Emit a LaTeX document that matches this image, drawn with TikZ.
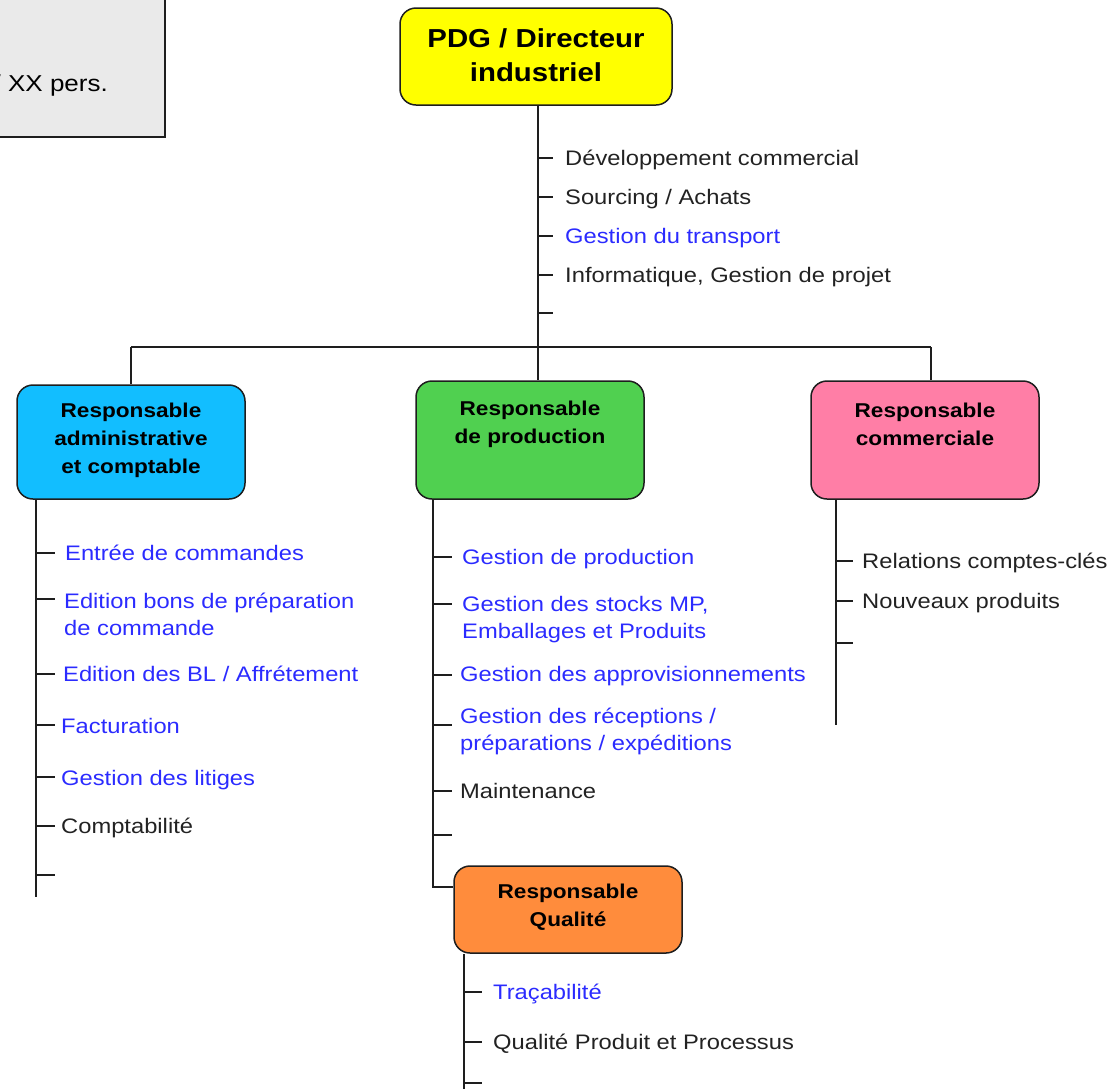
\documentclass[tikz,border=0pt]{standalone}
\usepackage{fontspec}
\setmainfont{Liberation Sans}[FakeStretch=1.13]
\definecolor{ln}{HTML}{1E1E1E}
\definecolor{itemblue}{HTML}{2B2BFF}
\definecolor{itemblack}{HTML}{222222}
\definecolor{yel}{HTML}{FFFF00}
\definecolor{cyanb}{HTML}{12BEFF}
\definecolor{grn}{HTML}{50D050}
\definecolor{pnk}{HTML}{FF7EA6}
\definecolor{org}{HTML}{FF8C3C}
\definecolor{grayb}{HTML}{EAEAEA}
\begin{document}
\begin{tikzpicture}[x=1pt,y=-1pt,
  rolebox/.style={draw=ln, line width=1.5pt, rounded corners=16pt, inner sep=0pt},
  roletext/.style={font=\bfseries\fontsize{20}{28}\selectfont, align=center, text=black, inner sep=0pt},
  toptext/.style={font=\bfseries\fontsize{26}{34}\selectfont, align=center, text=black, inner sep=0pt},
  itm/.style={font=\fontsize{21}{27}\selectfont, anchor=base west, inner sep=0pt, align=left},
  blu/.style={itm, text=itemblue},
  blk/.style={itm, text=itemblack},
  wire/.style={draw=ln, line width=1.7pt},
]
\useasboundingbox (0,0) rectangle (1115,1088);

% info box (cut off)
\node[draw=ln, fill=grayb, line width=1.5pt, minimum width=265pt, minimum height=157pt, inner sep=0pt] (info) at (32.5,58.5) {};
\node[blk, anchor=base east, text=black, font=\fontsize{23}{27}\selectfont] (infotext) at (108,91) {/ XX pers.};

% role boxes
\node[rolebox, fill=yel, minimum width=272pt, minimum height=97pt] (pdg) at (536,56.5) {};
\node[toptext] (pdgt) at (536,55) {PDG / Directeur\\industriel};

\node[rolebox, fill=cyanb, minimum width=228pt, minimum height=114pt] (adm) at (131,442) {};
\node[roletext] (admt) at (131,440) {Responsable\\administrative\\et comptable};

\node[rolebox, fill=grn, minimum width=228pt, minimum height=118pt] (prod) at (530,440) {};
\node[roletext] (prodt) at (530,424) {Responsable\\de production};

\node[rolebox, fill=pnk, minimum width=228pt, minimum height=118pt] (com) at (925,440) {};
\node[roletext] (comt) at (925,424) {Responsable\\commerciale};

\node[rolebox, fill=org, minimum width=228pt, minimum height=87pt] (qual) at (568,909.5) {};
\node[roletext] (qualt) at (568,907) {Responsable\\Qualité};

% connectors
\coordinate (trunk) at (538,347);
\coordinate (barL) at (131,347);
\coordinate (barR) at (931,347);
\draw[wire] (pdg.south -| trunk) -- (trunk |- prod.north);
\draw[wire] (barL) -- (barR);
\draw[wire] (barL) -- (barL |- adm.north);
\draw[wire] (barR) -- (barR |- com.north);

% PDG items
\foreach \y in {158,197,236,275,313} \draw[wire] (538,\y) -- ++(15,0);
\node[blk] (p1) at (565,165) {Développement commercial};
\node[blk] (p2) at (565,204) {Sourcing / Achats};
\node[blu] (p3) at (565,243) {Gestion du transport};
\node[blk] (p4) at (565,282) {Informatique, Gestion de projet};

% administrative branch
\coordinate (admEnd) at (36,897);
\draw[wire] (adm.south -| admEnd) -- (admEnd);
\foreach \y in {553,599,674,725,777,826,875} \draw[wire] (36,\y) -- ++(19,0);
\node[blu] (a1) at (65,560) {Entrée de commandes};
\node[blu] (a2) at (64,635) {Edition bons de préparation\\de commande};
\node[blu] (a3) at (63,681) {Edition des BL / Affrétement};
\node[blu] (a4) at (61,733) {Facturation};
\node[blu] (a5) at (61,785) {Gestion des litiges};
\node[blk] (a6) at (61,833) {Comptabilité};

% production branch
\coordinate (prodCorner) at (433,887);
\draw[wire] (prod.south -| prodCorner) -- (prodCorner) -- (prodCorner -| qual.west);
\foreach \y in {557,604,675,725,791,835} \draw[wire] (433,\y) -- ++(19,0);
\node[blu] (g1) at (462,564) {Gestion de production};
\node[blu] (g2) at (462,638) {Gestion des stocks MP,\\Emballages et Produits};
\node[blu] (g3) at (460,681) {Gestion des approvisionnements};
\node[blu] (g4) at (460,750) {Gestion des réceptions /\\préparations / expéditions};
\node[blk] (g5) at (460,798) {Maintenance};

% commercial branch
\coordinate (comEnd) at (836,725);
\draw[wire] (com.south -| comEnd) -- (comEnd);
\foreach \y in {561,601,643} \draw[wire] (836,\y) -- ++(17,0);
\node[blk] (c1) at (862,568) {Relations comptes-clés};
\node[blk] (c2) at (862,608) {Nouveaux produits};

% quality branch
\coordinate (qualEnd) at (464,1095);
\draw[wire] (qual.south -| qualEnd) -- (qualEnd);
\foreach \y in {992,1042,1083} \draw[wire] (464,\y) -- ++(18,0);
\node[blu] (q1) at (493,999) {Traçabilité};
\node[blk] (q2) at (493,1049) {Qualité Produit et Processus};
\end{tikzpicture}
\end{document}
